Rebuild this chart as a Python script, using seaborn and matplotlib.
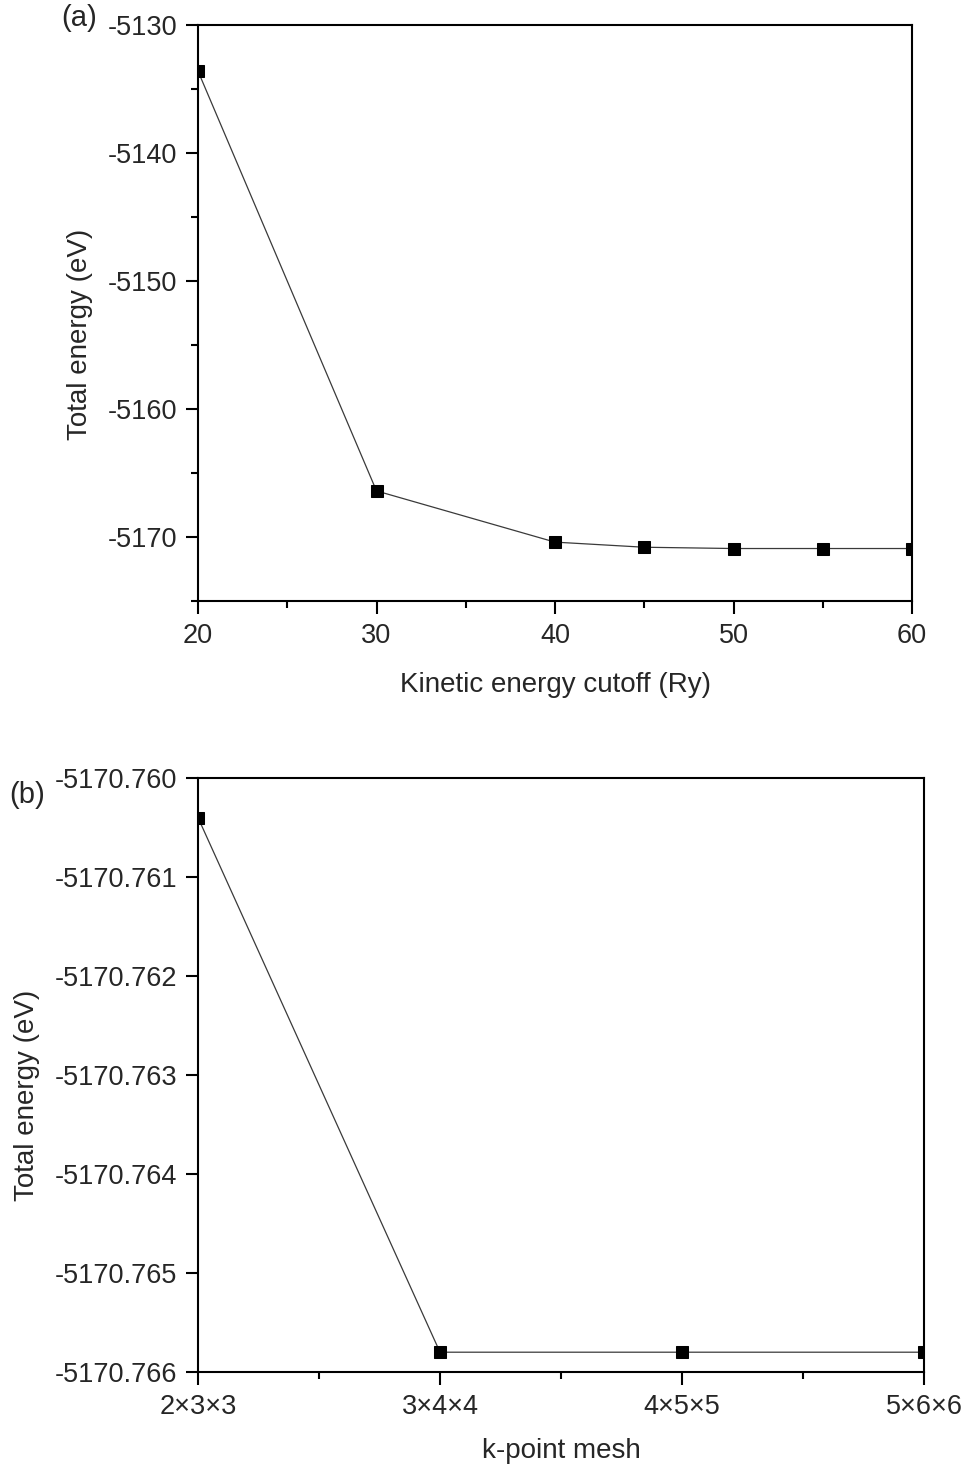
import numpy as np
import pandas as pd
import matplotlib
matplotlib.use("Agg")
import matplotlib.pyplot as plt
from matplotlib.ticker import MultipleLocator, FormatStrFormatter, FixedLocator
import seaborn as sns

# ---- data ----
cutoff_ry = [20, 30, 40, 45, 50, 55, 60]
energy_cutoff = [-5133.6, -5166.4, -5170.4, -5170.8, -5170.9, -5170.9, -5170.9]

kmesh_labels = ["2\u00d73\u00d73", "3\u00d74\u00d74", "4\u00d75\u00d75", "5\u00d76\u00d76"]
energy_kmesh = [-5170.7604, -5170.7658, -5170.7658, -5170.7658]

sns.set_theme(style="ticks")
plt.rcParams['font.family'] = ['Liberation Sans', 'DejaVu Sans']
plt.rcParams['axes.unicode_minus'] = False

fig = plt.figure(figsize=(9.69, 14.66), dpi=100)
W, H = 969, 1466

def add_ax(l, r, t, b):
    return fig.add_axes([l / W, 1 - b / H, (r - l) / W, (b - t) / H])

ax1 = add_ax(198, 912, 25, 601)
ax2 = add_ax(198, 924, 778, 1372)

line_kw = dict(marker='s', markersize=9, color='#3a3a3a', linewidth=0.9,
               markerfacecolor='black', markeredgecolor='black')

dfa = pd.DataFrame({"cutoff": cutoff_ry, "energy": energy_cutoff})
sns.lineplot(data=dfa, x="cutoff", y="energy", ax=ax1, **line_kw)

dfb = pd.DataFrame({"pos": np.arange(len(kmesh_labels)), "energy": energy_kmesh})
sns.lineplot(data=dfb, x="pos", y="energy", ax=ax2, **line_kw)

TICK_FS = 19.5
LAB_FS = 20

for ax in (ax1, ax2):
    for s in ax.spines.values():
        s.set_linewidth(1.5)
        s.set_color('black')
    ax.tick_params(axis='both', which='major', length=9, width=1.5, color='black',
                   labelsize=TICK_FS, direction='out', top=False, right=False)
    ax.tick_params(axis='both', which='minor', length=5, width=1.5, color='black',
                   direction='out', top=False, right=False)
    ax.tick_params(axis='x', which='major', pad=6.5)
    ax.tick_params(axis='y', which='major', pad=6)

# panel (a)
ax1.set_xlim(20, 60)
ax1.set_ylim(-5175, -5130)
ax1.xaxis.set_major_locator(MultipleLocator(10))
ax1.xaxis.set_minor_locator(MultipleLocator(5))
ax1.yaxis.set_major_locator(MultipleLocator(10))
ax1.yaxis.set_minor_locator(MultipleLocator(5))
ax1.yaxis.set_major_formatter(FormatStrFormatter('%d'))
ax1.set_xlabel("Kinetic energy cutoff (Ry)", fontsize=LAB_FS)
ax1.set_ylabel("Total energy (eV)", fontsize=LAB_FS)
ax1.xaxis.set_label_coords(0.5, -(672 - 601) / 576)
ax1.yaxis.set_label_coords((93 - 198) / 714, 0.463)
fig.text(79 / W, 1 - 18 / H, "(a)", fontsize=21, ha='center', va='center')

# panel (b)
ax2.set_xlim(0, 3)
ax2.set_ylim(-5170.766, -5170.760)
ax2.xaxis.set_major_locator(FixedLocator([0, 1, 2, 3]))
ax2.xaxis.set_minor_locator(FixedLocator([0.5, 1.5, 2.5]))
ax2.set_xticklabels(kmesh_labels)
ax2.yaxis.set_major_locator(MultipleLocator(0.001))
ax2.yaxis.set_major_formatter(FormatStrFormatter('%.3f'))
ax2.set_xlabel("k-point mesh", fontsize=LAB_FS)
ax2.set_ylabel("Total energy (eV)", fontsize=LAB_FS)
ax2.xaxis.set_label_coords(0.5, -(1438 - 1372) / 594)
ax2.yaxis.set_label_coords((40 - 198) / 726, 0.466)
fig.text(27 / W, 1 - 795 / H, "(b)", fontsize=21, ha='center', va='center')

fig.savefig("out.png", dpi=100, facecolor='white')
